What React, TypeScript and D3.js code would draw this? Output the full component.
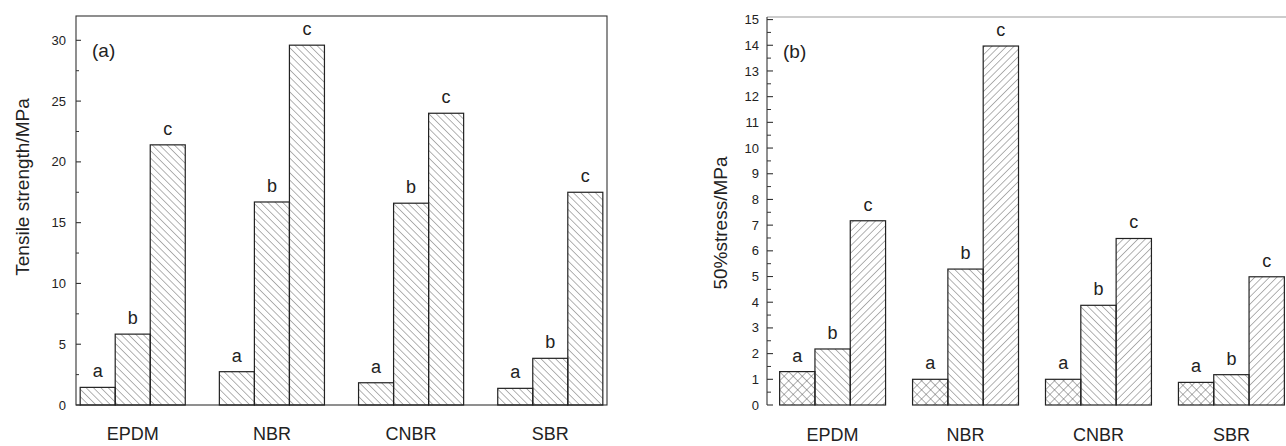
import React from 'react';
import * as d3 from 'd3';

// rubber types and the three samples in each group
const categories = ['EPDM', 'NBR', 'CNBR', 'SBR'];
const samples = ['a', 'b', 'c'];

// (a) tensile strength, MPa  [a, b, c] per rubber
const tensileStrength = [
  [1.45, 5.83, 21.4],
  [2.74, 16.7, 29.6],
  [1.83, 16.6, 24.0],
  [1.37, 3.84, 17.5],
];

// (b) 50% stress, MPa
const stress50 = [
  [1.3, 2.18, 7.17],
  [1.0, 5.29, 13.97],
  [1.0, 3.88, 6.48],
  [0.88, 1.18, 4.99],
];

const tensileTicks = [0, 5, 10, 15, 20, 25, 30];
const stressTicks = [0, 1, 2, 3, 4, 5, 6, 7, 8, 9, 10, 11, 12, 13, 14, 15];

const FONT = 'Liberation Sans, Arial, sans-serif';
const INK = '#222';

type PanelProps = {
  left: number;
  right: number;
  top: number;
  bottom: number;
  yMax: number;
  ticks: number[];
  minorStep: number;
  values: number[][];
  fills: string[];
  tag: string;
  yLabel: string;
  yLabelX: number;
  yLabelY: number;
  tickLabelGap: number;
  majorLen: number;
  minorLen: number;
  innerPad: number;
  outerPad: number;
  fullFrame: boolean;
  catY: number;
};

const Panel = (p: PanelProps) => {
  const y = d3.scaleLinear().domain([0, p.yMax]).range([p.bottom, p.top]);
  const x0 = d3.scaleBand<string>()
    .domain(categories)
    .range([p.left, p.right])
    .paddingInner(p.innerPad)
    .paddingOuter(p.outerPad);
  const x1 = d3.scaleBand<string>().domain(samples).range([0, x0.bandwidth()]);
  const minor = d3.range(0, p.yMax, p.minorStep).filter(v => !p.ticks.includes(v));

  return (
    <g fontFamily={FONT} fill={INK}>
      {/* frame */}
      {p.fullFrame ? (
        <rect x={p.left} y={p.top} width={p.right - p.left} height={p.bottom - p.top}
          fill="none" stroke="#333" strokeWidth={1.1} />
      ) : (
        <>
          <line x1={p.left} x2={1286} y1={p.top} y2={p.top} stroke="#999" strokeWidth={1} />
          <line x1={p.left} x2={p.left} y1={p.top} y2={p.bottom} stroke="#333" strokeWidth={1.1} />
        </>
      )}

      {/* bars */}
      {categories.map((cat, i) => (
        <g key={cat} transform={`translate(${x0(cat)},0)`}>
          {samples.map((s, j) => {
            const v = p.values[i][j];
            const bx = x1(s)!;
            const w = x1.bandwidth();
            return (
              <g key={s}>
                <rect x={bx} y={y(v)} width={w} height={p.bottom - y(v)}
                  fill={p.fills[j]} stroke={INK} strokeWidth={1.2} />
                <text x={bx + w / 2} y={y(v) - 10} textAnchor="middle" fontSize={18}>{s}</text>
              </g>
            );
          })}
          <text x={x0.bandwidth() / 2} y={p.catY} textAnchor="middle" fontSize={18}>{cat}</text>
        </g>
      ))}

      {/* y axis ticks, pointing inward */}
      {p.ticks.map(t => (
        <g key={t}>
          <line x1={p.left} x2={p.left + p.majorLen} y1={y(t)} y2={y(t)} stroke="#333" strokeWidth={1.1} />
          <text x={p.left - p.tickLabelGap} y={y(t)} dy="0.35em" textAnchor="end" fontSize={13}>{t}</text>
        </g>
      ))}
      {minor.map(t => (
        <line key={t} x1={p.left} x2={p.left + p.minorLen} y1={y(t)} y2={y(t)} stroke="#333" strokeWidth={1} />
      ))}

      <text transform={`translate(${p.yLabelX},${p.yLabelY}) rotate(-90)`}
        textAnchor="middle" dy="0.35em" fontSize={19}>{p.yLabel}</text>
      <text x={p.left + 16} y={p.top + 41} fontSize={19}>{p.tag}</text>
    </g>
  );
};

const App = () => {
  return (
    <svg width={1286} height={446} style={{ position: 'absolute', left: 0, top: 0, background: '#fff' }}>
      <defs>
        <pattern id="hatchBack" width={5.2} height={5.2} patternUnits="userSpaceOnUse" patternTransform="rotate(-45)">
          <line x1={0} y1={0} x2={0} y2={5.2} stroke="#555" strokeWidth={0.9} />
        </pattern>
        <pattern id="hatchFwd" width={5.2} height={5.2} patternUnits="userSpaceOnUse" patternTransform="rotate(45)">
          <line x1={0} y1={0} x2={0} y2={5.2} stroke="#555" strokeWidth={0.9} />
        </pattern>
        <pattern id="crossHatch" width={6.4} height={6.4} patternUnits="userSpaceOnUse" patternTransform="rotate(45)">
          <line x1={0} y1={0} x2={0} y2={6.4} stroke="#555" strokeWidth={0.9} />
          <line x1={0} y1={0} x2={6.4} y2={0} stroke="#555" strokeWidth={0.9} />
        </pattern>
      </defs>

      <Panel
        left={76} right={607} top={16} bottom={405}
        yMax={32} ticks={tensileTicks} minorStep={2.5}
        values={tensileStrength}
        fills={['url(#hatchBack)', 'url(#hatchBack)', 'url(#hatchBack)']}
        tag="(a)" yLabel="Tensile strength/MPa" yLabelX={22} yLabelY={187}
        tickLabelGap={10} majorLen={5} minorLen={3}
        innerPad={0.245} outerPad={0.03}
        fullFrame={true} catY={440}
      />
      <Panel
        left={767} right={1297} top={17} bottom={405}
        yMax={15.1} ticks={stressTicks} minorStep={0.5}
        values={stress50}
        fills={['url(#crossHatch)', 'url(#hatchBack)', 'url(#hatchFwd)']}
        tag="(b)" yLabel="50%stress/MPa" yLabelX={720} yLabelY={223}
        tickLabelGap={8} majorLen={6} minorLen={4}
        innerPad={0.203} outerPad={0.095}
        fullFrame={false} catY={441}
      />
    </svg>
  );
};

export default App;
